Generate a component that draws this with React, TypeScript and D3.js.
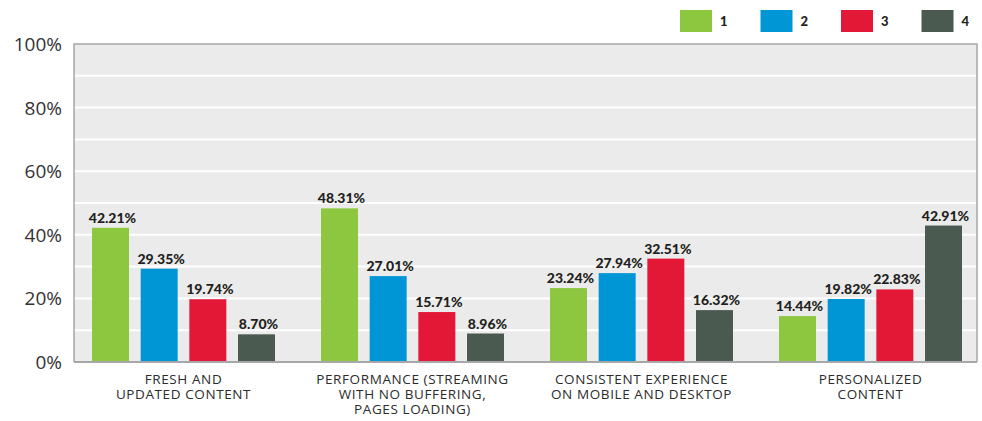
import { useEffect, useRef } from 'react'
import * as d3 from 'd3'

const categories: string[][] = [
  ['FRESH AND', 'UPDATED CONTENT'],
  ['PERFORMANCE (STREAMING', 'WITH NO BUFFERING,', 'PAGES LOADING)'],
  ['CONSISTENT EXPERIENCE', 'ON MOBILE AND DESKTOP'],
  ['PERSONALIZED', 'CONTENT'],
]
const seriesNames: string[] = ['1', '2', '3', '4']
const series1: number[] = [42.21, 48.31, 23.24, 14.44]
const series2: number[] = [29.35, 27.01, 27.94, 19.82]
const series3: number[] = [19.74, 15.71, 32.51, 22.83]
const series4: number[] = [8.70, 8.96, 16.32, 42.91]
const yTicks: number[] = [0, 20, 40, 60, 80, 100]
const colors: string[] = ['#8dc63f', '#0096d6', '#e31837', '#4b5a50']

const W = 982
const H = 421
const plot = { left: 74, right: 977, top: 44, bottom: 362 }

export default function App() {
  const ref = useRef<SVGSVGElement | null>(null)

  useEffect(() => {
    const svg = d3.select(ref.current)
    svg.selectAll('*').remove()

    const allSeries = [series1, series2, series3, series4]
    const data = categories.map((c, i) => ({
      idx: i,
      lines: c,
      values: allSeries.map((s, k) => ({ key: seriesNames[k], value: s[i] })),
    }))

    const x0 = d3.scaleBand<number>()
      .domain(data.map(d => d.idx))
      .range([69, 985])
    const x1 = d3.scaleBand<string>()
      .domain(seriesNames)
      .range([23, 206])
      .paddingInner(0.24)
    const y = d3.scaleLinear().domain([0, 100]).range([plot.bottom, plot.top])

    // background
    svg.append('rect')
      .attr('x', plot.left).attr('y', plot.top)
      .attr('width', plot.right - plot.left).attr('height', plot.bottom - plot.top)
      .attr('fill', '#ebebeb')

    // grid
    svg.append('g').selectAll('line')
      .data(d3.range(10, 100, 10))
      .enter().append('line')
      .attr('x1', plot.left).attr('x2', plot.right)
      .attr('y1', d => y(d)).attr('y2', d => y(d))
      .attr('stroke', '#ffffff').attr('stroke-width', 2)

    // frame
    svg.append('path')
      .attr('d', `M${plot.left},${plot.bottom}V${plot.top}H${plot.right}V${plot.bottom}`)
      .attr('fill', 'none').attr('stroke', '#a7a7aa').attr('stroke-width', 1.5)

    // bars
    const groups = svg.append('g').selectAll('g')
      .data(data)
      .enter().append('g')
      .attr('transform', d => `translate(${x0(d.idx)},0)`)

    groups.selectAll('rect')
      .data(d => d.values)
      .enter().append('rect')
      .attr('x', d => x1(d.key)!)
      .attr('width', x1.bandwidth())
      .attr('y', d => y(d.value))
      .attr('height', d => plot.bottom - y(d.value))
      .attr('fill', (d, i) => colors[i])

    groups.selectAll('text.val')
      .data(d => d.values)
      .enter().append('text')
      .attr('class', 'val')
      .attr('x', d => x1(d.key)! + x1.bandwidth() / 2 + 2)
      .attr('y', d => y(d.value) - 5)
      .attr('text-anchor', 'middle')
      .attr('font-family', 'Lato, "DejaVu Sans", sans-serif')
      .attr('font-weight', 900)
      .attr('font-size', 14)
      .attr('fill', '#231f20')
      .text(d => d.value.toFixed(2) + '%')

    // bottom axis line
    svg.append('line')
      .attr('x1', plot.left).attr('x2', plot.right)
      .attr('y1', plot.bottom).attr('y2', plot.bottom)
      .attr('stroke', '#a7a7aa').attr('stroke-width', 2)

    // category labels
    groups.each(function (d) {
      const t = d3.select(this).append('text')
        .attr('text-anchor', 'middle')
        .attr('font-family', '"Open Sans", "DejaVu Sans", sans-serif')
        .attr('font-size', 13.5)
        .attr('letter-spacing', 0.6)
        .attr('fill', '#2b2b2b')
      d.lines.forEach((ln, j) => {
        t.append('tspan')
          .attr('x', x0.bandwidth() / 2)
          .attr('y', 384 + j * 15)
          .text(ln)
      })
    })

    // y axis labels
    svg.append('g').selectAll('text')
      .data(yTicks)
      .enter().append('text')
      .attr('x', 62)
      .attr('y', d => y(d) + 7)
      .attr('text-anchor', 'end')
      .attr('font-family', '"Open Sans", "DejaVu Sans", sans-serif')
      .attr('font-size', 19)
      .attr('fill', '#333333')
      .text(d => d + '%')

    // legend
    const legend = svg.append('g').selectAll('g')
      .data(seriesNames)
      .enter().append('g')
      .attr('transform', (d, i) => `translate(${680 + i * 80.5},10)`)
    legend.append('rect')
      .attr('width', 32).attr('height', 22)
      .attr('fill', (d, i) => colors[i])
    legend.append('text')
      .attr('x', 40).attr('y', 16)
      .attr('font-family', 'Lato, "DejaVu Sans", sans-serif')
      .attr('font-weight', 900)
      .attr('font-size', 13)
      .attr('fill', '#231f20')
      .text(d => d)
  }, [])

  return (
    <svg ref={ref} width={W} height={H} style={{ position: 'absolute', left: 0, top: 0 }} />
  )
}
